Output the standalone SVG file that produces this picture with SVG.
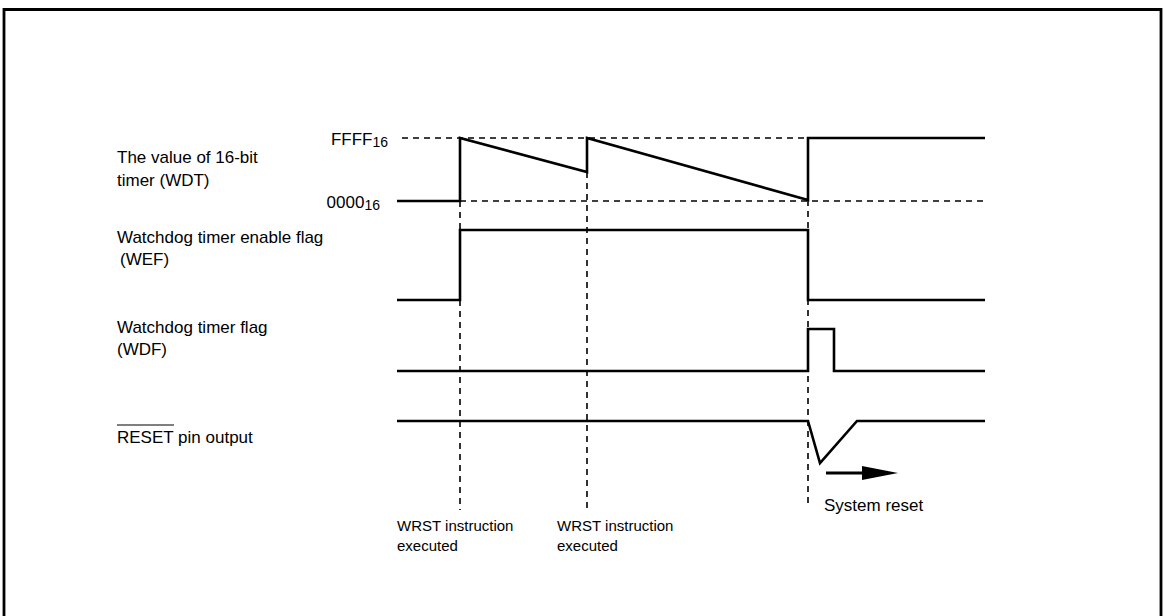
<svg xmlns="http://www.w3.org/2000/svg" width="1164" height="616" viewBox="0 0 1164 616">
<style>
.t{font-family:"Liberation Sans",Arial,sans-serif;font-size:17px;fill:#000}
.b{font-family:"Liberation Sans",Arial,sans-serif;font-size:15px;fill:#000}
.w{fill:none;stroke:#000;stroke-width:2.6;stroke-linejoin:miter}
.d{fill:none;stroke:#000;stroke-width:1.6;stroke-dasharray:6 5}
</style>
<rect width="1164" height="616" fill="#fff"/>
<path d="M4,620 V9.5 H1161 V620" fill="none" stroke="#000" stroke-width="2.8"/>
<g id="labels">
<text class="t" x="117" y="163">The value of 16-bit</text>
<text class="t" x="117" y="186">timer (WDT)</text>
<text class="t" x="388" y="145" text-anchor="end">FFFF<tspan font-size="14" dy="2">16</tspan></text>
<text class="t" x="380" y="208" text-anchor="end">0000<tspan font-size="14" dy="2">16</tspan></text>
<text class="t" x="117" y="243">Watchdog timer enable flag</text>
<text class="t" x="120" y="265">(WEF)</text>
<text class="t" x="117" y="333">Watchdog timer flag</text>
<text class="t" x="117" y="355">(WDF)</text>
<text class="t" x="117" y="443">RESET pin output</text>
<line x1="117" y1="425" x2="174" y2="425" stroke="#000" stroke-width="1.2"/>
</g>
<g id="connectors">
<line class="d" x1="402" y1="138" x2="985" y2="138"/>
<line class="d" x1="460" y1="201" x2="985" y2="201"/>
<line class="d" x1="460" y1="201" x2="460" y2="510"/>
<line class="d" x1="587" y1="172" x2="587" y2="510"/>
<line class="d" x1="808" y1="200" x2="808" y2="505"/>
</g>
<g id="wdt"><path class="w" d="M397,201 H460 V138 L587,172 V138 L808,200 V138 H985"/></g>
<g id="wef"><path class="w" d="M397,300 H460 V230 H808 V300 H985"/></g>
<g id="wdf"><path class="w" d="M397,371 H808 V329 H834 V371 H985"/></g>
<g id="reset"><path class="w" d="M397,421 H808 L820,463 L857,421 H985"/></g>
<g id="sysreset">
<line x1="826" y1="473" x2="866" y2="473" stroke="#000" stroke-width="3"/>
<polygon points="862,466 898,473 862,480" fill="#000"/>
<text class="t" x="824" y="511">System reset</text>
</g>
<g id="wrst1">
<text class="b" x="397" y="531">WRST instruction</text>
<text class="b" x="397" y="551">executed</text>
</g>
<g id="wrst2">
<text class="b" x="557" y="531">WRST instruction</text>
<text class="b" x="557" y="551">executed</text>
</g>
</svg>
